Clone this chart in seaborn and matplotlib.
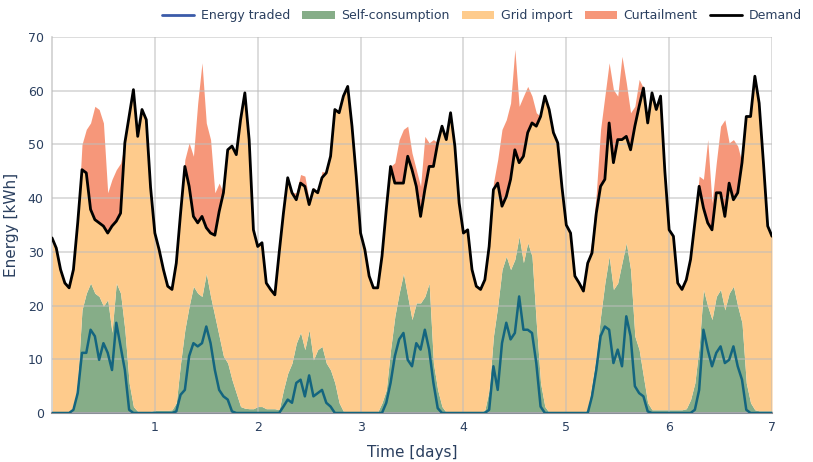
import numpy as np
import pandas as pd
import matplotlib
matplotlib.use("Agg")
import matplotlib.pyplot as plt
from matplotlib.lines import Line2D
from matplotlib.patches import Patch
import seaborn as sns

# Hourly values, 7 days (+ final point at t=7 days)
demand = [
    # day 0
    32.6, 30.7, 26.7, 24.2, 23.3, 26.7, 35.4, 45.3, 44.7, 37.9, 36.0, 35.4,
    34.8, 33.5, 34.8, 35.7, 37.2, 50.3, 55.2, 60.2, 51.5, 56.5, 54.6, 42.0,
    # day 1
    33.5, 30.4, 26.7, 23.6, 23.0, 27.9, 37.2, 45.9, 42.2, 36.6, 35.4, 36.6,
    34.5, 33.5, 33.1, 37.5, 41.0, 49.0, 49.7, 48.1, 54.6, 59.6, 50.9, 34.1,
    # day 2
    31.0, 31.7, 24.2, 23.0, 22.0, 29.8, 37.2, 43.8, 41.0, 39.7, 42.8, 42.2,
    38.8, 41.6, 41.0, 43.8, 44.7, 47.8, 56.5, 55.9, 59.0, 60.8, 53.4, 44.0,
    # day 3
    33.5, 30.4, 25.5, 23.3, 23.3, 29.2, 37.9, 45.9, 42.8, 42.8, 42.8, 47.8,
    45.3, 42.2, 36.6, 41.6, 45.9, 45.9, 50.3, 53.4, 50.9, 55.9, 49.7, 39.1,
    # day 4
    33.5, 34.1, 26.7, 23.6, 23.0, 24.8, 31.0, 41.6, 42.8, 38.5, 40.3, 43.5,
    49.0, 46.6, 47.8, 52.2, 54.0, 53.4, 55.2, 59.0, 56.5, 52.2, 50.3, 42.0,
    # day 5
    35.0, 33.5, 25.5, 24.2, 22.7, 27.9, 29.8, 37.2, 42.2, 43.5, 54.0, 46.6,
    50.9, 50.9, 51.5, 49.0, 53.4, 57.1, 60.5, 54.0, 59.6, 56.5, 59.0, 45.0,
    # day 6
    34.1, 32.9, 24.2, 23.0, 24.8, 28.6, 35.4, 42.2, 38.2, 35.4, 34.1, 41.0,
    41.0, 36.6, 42.8, 39.7, 41.0, 46.6, 55.2, 55.2, 62.7, 57.7, 46.6, 34.8,
    # end
    32.9,
]

supply_top = [  # top of curtailment band (demand + curtailment), None = no curtailment
    # day 0
    None, None, None, None, None, None, None, 50.0, 52.8, 54.0, 57.1, 56.5,
    54.0, 41.0, 43.5, 45.3, 46.5, None, None, 56.5, None, None, None, None,
    # day 1
    None, None, None, None, None, None, None, 47.2, 50.3, 47.8, 57.7, 65.2,
    54.0, 50.9, 41.0, 42.8, None, None, None, None, None, None, None, None,
    # day 2
    None, None, None, None, None, None, None, None, None, 41.0, 44.4, 44.1,
    39.7, 42.0, None, 45.0, None, None, None, None, None, None, None, None,
    # day 3
    None, None, None, None, None, None, None, None, 46.6, 50.9, 52.8, 53.4,
    48.4, 45.3, 42.2, 51.5, 50.3, 50.9, None, None, None, None, None, None,
    # day 4
    None, None, None, None, None, None, None, 42.8, 47.2, 52.8, 54.6, 57.7,
    67.7, 57.1, 59.0, 60.8, 59.0, 55.9, None, None, None, None, None, None,
    # day 5
    None, None, None, None, None, None, 32.3, 40.9, 52.8, 59.0, 65.2, 60.2,
    59.0, 66.4, 61.5, 55.9, 57.1, 62.1, None, None, None, None, None, None,
    # day 6
    None, None, None, None, None, None, None, 44.1, 43.5, 50.9, 39.1, 46.6,
    53.4, 54.6, 50.3, 50.9, 49.7, None, None, None, None, None, None, None,
    None,
]

self_consumption = [
    # day 0
    0.1, 0.1, 0.1, 0.1, 0.1, 0.6, 6.2, 19.2, 22.3, 24.2, 22.3, 21.7,
    19.9, 21.1, 15.0, 24.2, 22.3, 15.5, 5.6, 1.2, 0.3, 0.2, 0.2, 0.3,
    # day 1
    0.5, 0.5, 0.5, 0.5, 0.6, 1.9, 9.3, 15.5, 19.9, 23.6, 22.3, 21.7,
    26.0, 21.7, 18.0, 14.3, 10.6, 9.3, 6.2, 3.7, 1.2, 0.9, 0.8, 0.8,
    # day 2
    1.2, 1.2, 0.8, 0.8, 0.8, 0.6, 4.3, 7.4, 9.3, 13.0, 15.0, 11.8,
    15.5, 9.9, 11.8, 12.4, 9.3, 8.0, 5.6, 1.9, 0.3, 0.1, 0.1, 0.1,
    # day 3
    0.1, 0.1, 0.1, 0.1, 0.2, 1.9, 4.3, 11.8, 18.0, 22.3, 26.0, 21.7,
    17.4, 20.5, 20.5, 21.7, 24.2, 9.3, 4.3, 1.2, 0.1, 0.1, 0.1, 0.1,
    # day 4
    0.1, 0.1, 0.1, 0.1, 0.1, 0.6, 4.3, 14.3, 19.9, 26.7, 29.2, 26.7,
    28.6, 32.9, 28.0, 31.7, 29.2, 16.8, 5.6, 1.2, 0.1, 0.1, 0.1, 0.1,
    # day 5
    0.1, 0.1, 0.1, 0.1, 0.1, 0.6, 5.6, 10.6, 18.0, 24.2, 29.2, 23.0,
    24.2, 28.0, 31.7, 26.7, 14.3, 11.8, 6.8, 1.9, 0.6, 0.6, 0.6, 0.6,
    # day 6
    0.6, 0.6, 0.6, 0.6, 0.8, 2.5, 5.6, 12.4, 23.0, 19.9, 17.4, 21.7,
    23.0, 19.2, 22.3, 23.6, 19.9, 16.8, 5.6, 1.9, 0.6, 0.4, 0.4, 0.4,
    0.4,
]

energy_traded = [
    # day 0
    0, 0, 0, 0, 0, 0.6, 3.7, 11.2, 11.2, 15.5, 14.3, 9.9,
    13.0, 11.2, 8.0, 16.8, 12.4, 8.0, 0.6, 0, 0, 0, 0, 0,
    # day 1
    0, 0, 0, 0, 0, 0.3, 3.4, 4.3, 10.6, 13.0, 12.4, 13.0,
    16.1, 13.0, 8.0, 4.3, 3.1, 2.5, 0.3, 0, 0, 0, 0, 0,
    # day 2
    0, 0, 0, 0, 0, 0, 1.2, 2.5, 1.9, 5.6, 6.2, 3.1,
    7.0, 3.1, 3.7, 4.3, 1.9, 1.2, 0, 0, 0, 0, 0, 0,
    # day 3
    0, 0, 0, 0, 0, 0, 1.9, 5.6, 10.6, 13.7, 14.9, 9.9,
    8.7, 13.0, 11.8, 15.5, 11.8, 5.6, 0.9, 0, 0, 0, 0, 0,
    # day 4
    0, 0, 0, 0, 0, 0, 0.6, 8.7, 4.3, 13.0, 16.8, 13.7,
    14.9, 21.7, 15.5, 15.5, 14.9, 9.3, 1.2, 0, 0, 0, 0, 0,
    # day 5
    0, 0, 0, 0, 0, 0, 3.1, 8.0, 14.3, 16.1, 15.5, 9.3,
    11.8, 8.7, 18.0, 14.3, 5.0, 3.7, 3.1, 0.3, 0, 0, 0, 0,
    # day 6
    0, 0, 0, 0, 0, 0, 0.6, 4.3, 15.5, 11.8, 8.7, 11.2,
    12.4, 9.3, 9.9, 12.4, 8.7, 6.2, 0.6, 0, 0, 0, 0, 0,
    0,
]

y_ticks = [0, 10, 20, 30, 40, 50, 60, 70]
x_ticks = [1, 2, 3, 4, 5, 6, 7]
legend_labels = ["Energy traded", "Self-consumption", "Grid import", "Curtailment", "Demand"]

# ---- derived table ----
t = np.arange(len(demand)) / 24.0
dem = np.array(demand, dtype=float)
sc = np.array(self_consumption, dtype=float)
top = np.array([d if v is None else max(v, d) for v, d in zip(supply_top, demand)], dtype=float)
df = pd.DataFrame({"time": t, "demand": dem, "self": sc, "top": top,
                   "traded": np.array(energy_traded, dtype=float)})

# ---- styling ----
C_GREEN = "#86ad88"
C_ORANGE = "#fecb8c"
C_SALMON = "#f6977a"
C_TRADED = "#14657f"
C_TRADED_LEG = "#3b5ba9"
C_TEXT = "#2a3f5f"

sns.set_theme(style="white")
plt.rcParams["font.family"] = ["DejaVu Sans"]

fig = plt.figure(figsize=(8.13, 4.62), dpi=100)
ax = fig.add_axes([52 / 813, 1 - 413 / 462, 720 / 813, 376 / 462])

ax.fill_between(df["time"], 0, df["self"], color=C_GREEN, lw=0, zorder=1)
ax.fill_between(df["time"], df["self"], df["demand"], color=C_ORANGE, lw=0, zorder=1)
ax.fill_between(df["time"], df["demand"], df["top"], color=C_SALMON, lw=0, zorder=1)

sns.lineplot(data=df, x="time", y="traded", ax=ax, color=C_TRADED, lw=1.8, zorder=3)
sns.lineplot(data=df, x="time", y="demand", ax=ax, color="black", lw=2.0, zorder=4)

ax.set_xlim(0, 7)
ax.set_ylim(0, 70)
ax.set_xticks(x_ticks)
ax.set_yticks(y_ticks)
ax.set_axisbelow(False)
ax.grid(True, color="#bdbdbd", alpha=0.6, lw=1.2, zorder=2.5)
for s in ["top", "right"]:
    ax.spines[s].set_visible(False)
ax.spines["left"].set_color("#d0d0d0")
ax.spines["left"].set_linewidth(1.2)
ax.spines["bottom"].set_color("#8a8f98")
ax.spines["bottom"].set_linewidth(1.5)
ax.tick_params(axis="both", colors=C_TEXT, labelsize=9, length=0, pad=6)
for lab in ax.get_xticklabels() + ax.get_yticklabels():
    lab.set_color(C_TEXT)
ax.set_xlabel("Time [days]", color=C_TEXT, fontsize=11, labelpad=8)
ax.set_ylabel("Energy [kWh]", color=C_TEXT, fontsize=11, labelpad=6)

handles = [
    Line2D([0], [0], color=C_TRADED_LEG, lw=2),
    Patch(facecolor=C_GREEN, edgecolor="none"),
    Patch(facecolor=C_ORANGE, edgecolor="none"),
    Patch(facecolor=C_SALMON, edgecolor="none"),
    Line2D([0], [0], color="black", lw=2),
]
leg = fig.legend(handles, legend_labels, loc="upper right", bbox_to_anchor=(1.0, 1.005),
                 ncol=5, frameon=False, fontsize=9, handlelength=2.6, handleheight=0.6,
                 columnspacing=1.0, handletextpad=0.5, labelcolor=C_TEXT)

fig.savefig("out.png", dpi=100)
